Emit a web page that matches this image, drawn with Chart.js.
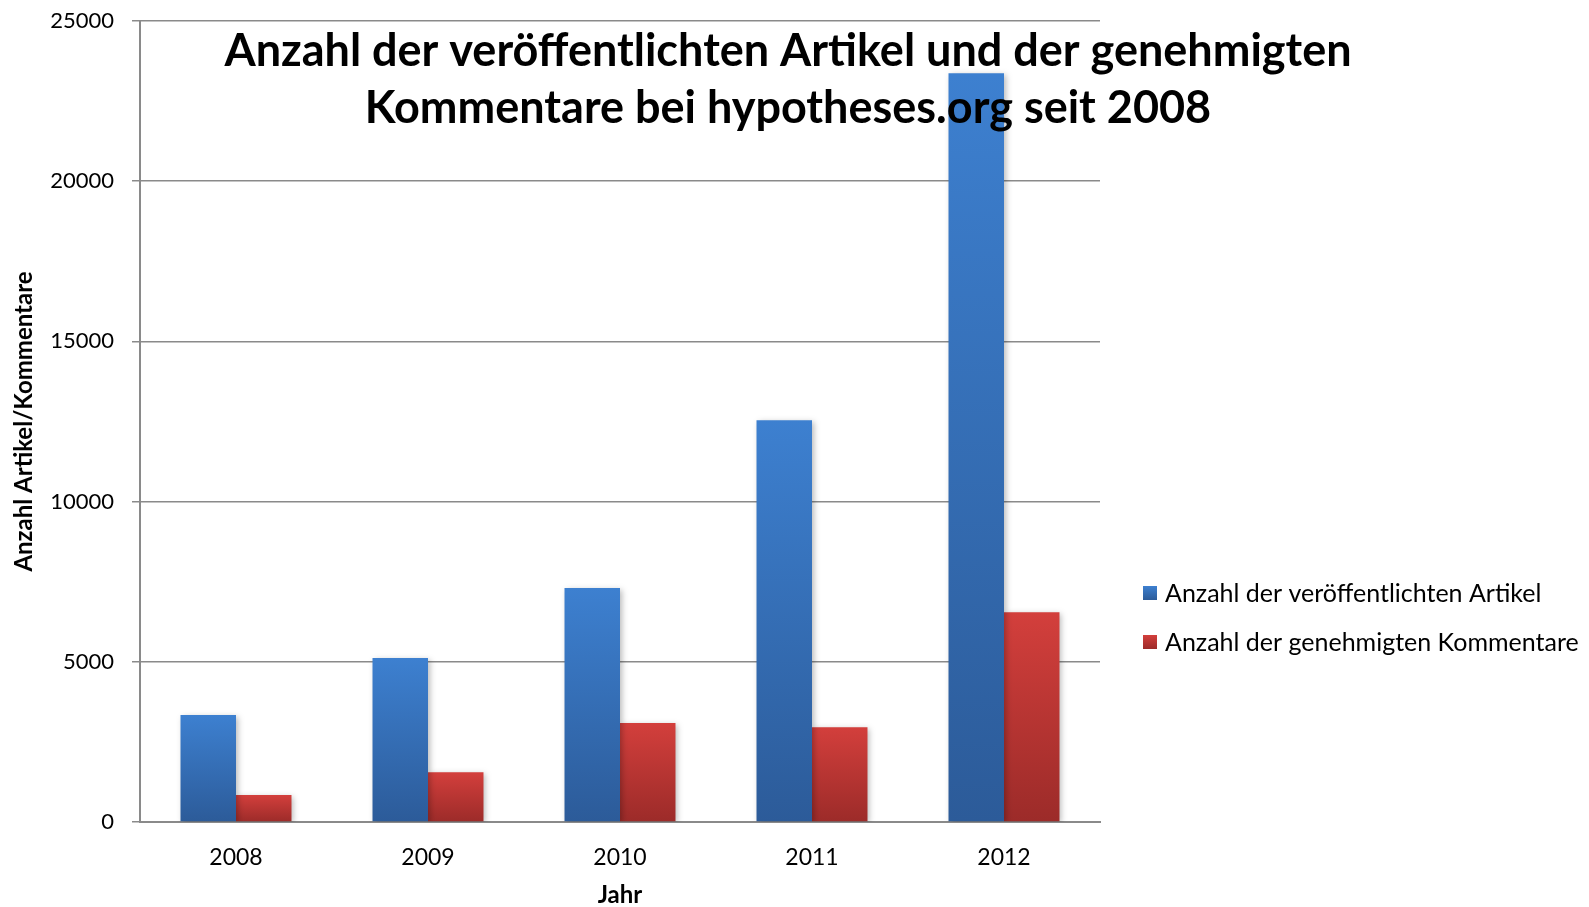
<!DOCTYPE html>
<html>
<head>
<meta charset="utf-8">
<script src="https://cdn.jsdelivr.net/npm/chart.js@4.4.0/dist/chart.umd.min.js"></script>
<style>
html, body { margin: 0; padding: 0; background: #fff; }
</style>
</head>
<body>
<canvas id="chart" width="1589" height="907"></canvas>
<script>
const jahre = ['2008', '2009', '2010', '2011', '2012'];
const artikel = [3340, 5120, 7300, 12540, 23370];
const kommentare = [840, 1550, 3090, 2960, 6550];
const yTicks = [0, 5000, 10000, 15000, 20000, 25000];
const serienNamen = ['Anzahl der veröffentlichten Artikel', 'Anzahl der genehmigten Kommentare'];
const titelZeilen = ['Anzahl der veröffentlichten Artikel und der genehmigten', 'Kommentare bei hypotheses.org seit 2008'];

const schrift = 'Lato, "Noto Sans", sans-serif';
const grau = '#8a8a8a';

// Farbverlauf je Balken (oben hell, unten dunkel)
function verlauf(c, oben, unten) {
    const chart = c.chart;
    const y = chart.scales.y;
    if (!y || c.raw === undefined) return oben;
    const y0 = y.getPixelForValue(c.raw);
    const y1 = y.getPixelForValue(0);
    if (!isFinite(y0) || !isFinite(y1) || y0 === y1) return oben;
    const g = chart.ctx.createLinearGradient(0, y0, 0, y1);
    g.addColorStop(0, oben);
    g.addColorStop(1, unten);
    return g;
}

const schatten = {
    id: 'schatten',
    beforeDatasetsDraw(chart) {
        const ctx = chart.ctx;
        ctx.save();
        ctx.shadowColor = 'rgba(0,0,0,0.28)';
        ctx.shadowBlur = 6;
        ctx.shadowOffsetX = 2;
        ctx.shadowOffsetY = 2;
    },
    afterDatasetsDraw(chart) {
        chart.ctx.restore();
    }
};

// Titel liegt über der Zeichenfläche, Legende rechts
const titelUndLegende = {
    id: 'titelUndLegende',
    afterDraw(chart) {
        const ctx = chart.ctx;
        ctx.save();
        ctx.fillStyle = '#000';
        ctx.textAlign = 'center';
        ctx.textBaseline = 'middle';
        ctx.font = 'bold 45px ' + schrift;
        ctx.fillText(titelZeilen[0], 788, 51);
        ctx.fillText(titelZeilen[1], 788, 108);

        const farben = [['#3d80d0', '#2c5b99'], ['#d33f3c', '#9c2b29']];
        const ys = [593, 642];
        ctx.textAlign = 'left';
        ctx.font = '25px ' + schrift;
        for (let i = 0; i < 2; i++) {
            const g = ctx.createLinearGradient(0, ys[i] - 7, 0, ys[i] + 7);
            g.addColorStop(0, farben[i][0]);
            g.addColorStop(1, farben[i][1]);
            ctx.fillStyle = g;
            ctx.fillRect(1143, ys[i] - 7, 14, 14);
            ctx.fillStyle = '#000';
            ctx.fillText(serienNamen[i], 1165, ys[i] + 1);
        }
        ctx.restore();
    }
};

const ctx = document.querySelector('#chart').getContext('2d');
const chart = new Chart(ctx, {
    type: 'bar',
    data: {
        labels: jahre,
        datasets: [{
            label: serienNamen[0],
            data: artikel,
            backgroundColor: c => verlauf(c, '#3d80d0', '#2c5b99'),
            categoryPercentage: 0.578,
            barPercentage: 1.0
        },
        {
            label: serienNamen[1],
            data: kommentare,
            backgroundColor: c => verlauf(c, '#d33f3c', '#9c2b29'),
            categoryPercentage: 0.578,
            barPercentage: 1.0
        }]
    },
    options: {
        responsive: false,
        animation: false,
        devicePixelRatio: 1,
        layout: {
            padding: { top: 21, right: 489, left: 0, bottom: 0 }
        },
        scales: {
            x: {
                grid: { drawOnChartArea: false, drawTicks: false },
                border: { display: true, color: grau, width: 2 },
                ticks: { color: '#000', font: { family: schrift, size: 23 }, padding: 22 },
                title: {
                    display: true, text: 'Jahr', color: '#000',
                    font: { family: schrift, size: 24, weight: 'bold', lineHeight: 1 },
                    padding: { top: 0, bottom: 0 }
                },
                afterFit(scale) { scale.height = 85; }
            },
            y: {
                min: 0,
                max: 25000,
                afterBuildTicks(scale) { scale.ticks = yTicks.map(v => ({ value: v })); },
                grid: { color: grau, lineWidth: 1.5, tickLength: 8 },
                border: { display: true, color: grau, width: 2 },
                ticks: {
                    color: '#000', font: { family: schrift, size: 22 }, padding: 18,
                    callback: v => String(v)
                },
                title: {
                    display: true, text: 'Anzahl Artikel/Kommentare', color: '#000',
                    font: { family: schrift, size: 24, weight: 'bold' },
                    padding: { top: 10, bottom: 0 }
                },
                afterFit(scale) {
                    scale.width = 140;
                    scale.paddingTop = 0;
                    scale.paddingBottom = 0;
                }
            }
        },
        plugins: {
            legend: { display: false },
            title: { display: false },
            tooltip: { enabled: false }
        }
    },
    plugins: [schatten, titelUndLegende]
});
</script>
</body>
</html>
